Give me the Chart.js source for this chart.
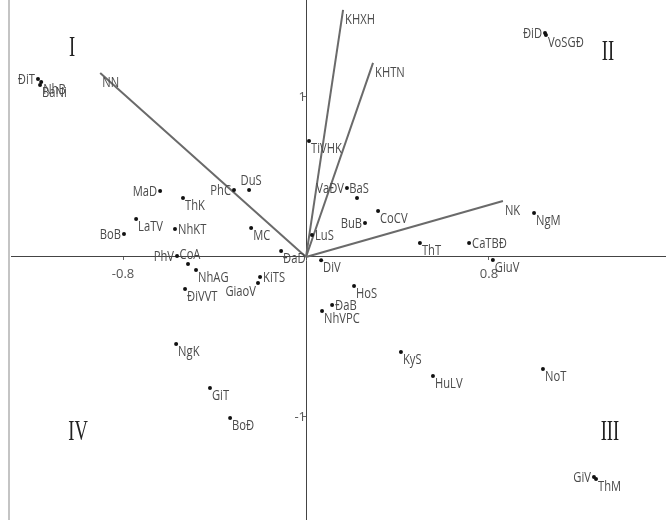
<!DOCTYPE html>
<html>
<head>
<meta charset="utf-8">
<script src="https://cdn.jsdelivr.net/npm/chart.js@4.4.1/dist/chart.umd.min.js"></script>
<style>
    body { margin: 0; background: #fff; }
    .wrap { position: relative; width: 666px; height: 520px; }
    .frame { position: absolute; left: 8px; top: 0; width: 2px; height: 520px; background: #c4c4c4; }
</style>
</head>
<body>
<div class="wrap">
    <div class="frame"></div>
    <canvas id="biplot"></canvas>
</div>
<script>
// Diem cac doi tuong (toa do theo truc 1 va truc 2)
const names = ['ĐiT', 'NhB', 'BaNi', 'MaD', 'DuS', 'PhC', 'ThK', 'LaTV', 'BoB', 'NhKT',
    'MC', 'ĐaD', 'PhV', 'CoA', 'NhAG', 'ĐiVVT', 'KiTS', 'GiaoV', 'TiVHK', 'VaĐV',
    'BaS', 'CoCV', 'BuB', 'LuS', 'ThT', 'CaTBĐ', 'DiV', 'HoS', 'ĐaB', 'NhVPC',
    'KyS', 'HuLV', 'ĐiD', 'VoSGĐ', 'NgM', 'GiuV', 'NgK', 'GiT', 'BoĐ', 'NoT',
    'GiV', 'ThM'];
const xs = [-1.172, -1.158, -1.163, -0.638, -0.249, -0.315, -0.538, -0.743, -0.796, -0.573,
    -0.240, -0.109, -0.564, -0.516, -0.481, -0.529, -0.201, -0.210, 0.013, 0.179,
    0.223, 0.315, 0.258, 0.026, 0.498, 0.713, 0.066, 0.210, 0.114, 0.070,
    0.415, 0.555, 1.045, 1.049, 0.997, 0.817, -0.568, -0.420, -0.332, 1.036,
    1.259, 1.268];
const ys = [1.113, 1.094, 1.075, 0.413, 0.419, 0.419, 0.369, 0.238, 0.144, 0.175,
    0.181, 0.038, 0.006, -0.044, -0.081, -0.200, -0.125, -0.163, 0.725, 0.431,
    0.369, 0.288, 0.213, 0.138, 0.088, 0.088, -0.020, -0.181, -0.300, -0.338,
    -0.594, -0.744, 1.400, 1.388, 0.275, -0.019, -0.544, -0.819, -1.006, -0.700,
    -1.375, -1.388];
// vi tri nhan: br = duoi phai, r = phai, l = trai, a = tren, bl = duoi trai
const labelSide = ['l', 'br', 'br', 'l', 'a', 'l', 'br', 'br', 'l', 'r',
    'br', 'br', 'l', 'a', 'br', 'br', 'r', 'bl', 'br', 'l',
    'a', 'br', 'l', 'r', 'br', 'r', 'br', 'br', 'r', 'br',
    'br', 'br', 'l', 'br', 'br', 'br', 'br', 'br', 'br', 'br',
    'l', 'br'];

// Cac vec-to bien
const vectorNames = ['KHXH', 'KHTN', 'NK', 'NN'];
const vectorX = [0.162, 0.293, 0.861, -0.900];
const vectorY = [1.544, 1.213, 0.350, 1.150];

// Nhan goc phan tu
const quadrantNames = ['I', 'II', 'III', 'IV'];
const quadrantX = [-1.023, 1.320, 1.329, -0.997];
const quadrantY = [1.306, 1.281, -1.094, -1.094];

const xTicks = [-0.8, 0.8];
const yTicks = [-1, 1];

document.addEventListener('DOMContentLoaded', function() {
    initBiplot();
});

function drawText(ctx, text, x, y, align, baseline, font, color, squeeze) {
    ctx.save();
    ctx.translate(x, y);
    ctx.scale(squeeze, 1);
    ctx.font = font;
    ctx.fillStyle = color;
    ctx.textAlign = align;
    ctx.textBaseline = baseline;
    ctx.fillText(text, 0, 0);
    ctx.restore();
}

function sideOffset(side) {
    switch (side) {
        case 'l': return { dx: -3, dy: 1, align: 'right', baseline: 'middle' };
        case 'r': return { dx: 3, dy: 1, align: 'left', baseline: 'middle' };
        case 'a': return { dx: 2, dy: -2, align: 'center', baseline: 'bottom' };
        case 'bl': return { dx: -2, dy: 2, align: 'right', baseline: 'top' };
        default: return { dx: 2, dy: 1, align: 'left', baseline: 'top' };
    }
}

const labelPlugin = {
    id: 'biplotLabels',
    afterDatasetsDraw(chart) {
        const ctx = chart.ctx;
        const labelFont = '14px "Open Sans", sans-serif';

        // nhan cac diem
        chart.getDatasetMeta(0).data.forEach((pt, i) => {
            const o = sideOffset(labelSide[i]);
            drawText(ctx, names[i], pt.x + o.dx, pt.y + o.dy, o.align, o.baseline, labelFont, '#4a4a4a', 0.8);
        });

        // nhan vec-to
        vectorNames.forEach((name, i) => {
            const end = chart.getDatasetMeta(i + 1).data[1];
            drawText(ctx, name, end.x + 2, end.y + 3, 'left', 'top', labelFont, '#4a4a4a', 0.8);
        });

        // goc phan tu
        const sx = chart.scales.x;
        const sy = chart.scales.y;
        quadrantNames.forEach((q, i) => {
            drawText(ctx, q, sx.getPixelForValue(quadrantX[i]), sy.getPixelForValue(quadrantY[i]),
                'center', 'middle', '30px "Liberation Serif", serif', '#222', 0.62);
        });
    }
};

// bo phan dem tu nhan truc de vung ve chiem het khung
function noPadding(scale) {
    scale.paddingTop = 0;
    scale.paddingBottom = 0;
    scale.paddingLeft = 0;
    scale.paddingRight = 0;
}

function initBiplot() {
    const ctx = document.getElementById('biplot').getContext('2d');

    const pointData = xs.map((x, i) => ({ x: x, y: ys[i] }));

    const vectorSets = vectorNames.map((name, i) => ({
        label: name,
        type: 'line',
        data: [{ x: 0, y: 0 }, { x: vectorX[i], y: vectorY[i] }],
        borderColor: '#6a6a6a',
        borderWidth: 2,
        pointRadius: 0,
        fill: false
    }));

    new Chart(ctx, {
        type: 'scatter',
        data: {
            datasets: [{
                label: 'points',
                data: pointData,
                backgroundColor: '#111',
                borderColor: '#111',
                pointRadius: 2,
                pointBorderWidth: 0
            }].concat(vectorSets)
        },
        options: {
            responsive: true,
            maintainAspectRatio: false,
            animation: false,
            layout: {
                autoPadding: false,
                padding: { left: 11, right: 0, top: 0, bottom: 0 }
            },
            plugins: {
                legend: { display: false },
                tooltip: { enabled: false }
            },
            scales: {
                x: {
                    type: 'linear',
                    min: -1.29,
                    max: 1.574,
                    position: { y: 0 },
                    afterBuildTicks: function(axis) {
                        axis.ticks = xTicks.map(v => ({ value: v }));
                    },
                    afterFit: noPadding,
                    border: { color: '#444', width: 1 },
                    grid: { drawOnChartArea: false, drawTicks: true, tickLength: 3, color: '#666' },
                    ticks: {
                        color: '#555',
                        padding: 7,
                        font: { family: '"Open Sans", sans-serif', size: 13 },
                        callback: function(value) { return value.toFixed(1); }
                    }
                },
                y: {
                    type: 'linear',
                    min: -1.644,
                    max: 1.606,
                    position: { x: 0 },
                    afterBuildTicks: function(axis) {
                        axis.ticks = yTicks.map(v => ({ value: v }));
                    },
                    afterFit: noPadding,
                    border: { color: '#444', width: 1 },
                    grid: { drawOnChartArea: false, drawTicks: true, tickLength: 3, color: '#666' },
                    ticks: {
                        color: '#555',
                        padding: 2,
                        font: { family: '"Open Sans", sans-serif', size: 13 },
                        callback: function(value) { return String(value); }
                    }
                }
            }
        },
        plugins: [labelPlugin]
    });
}
</script>
</body>
</html>
